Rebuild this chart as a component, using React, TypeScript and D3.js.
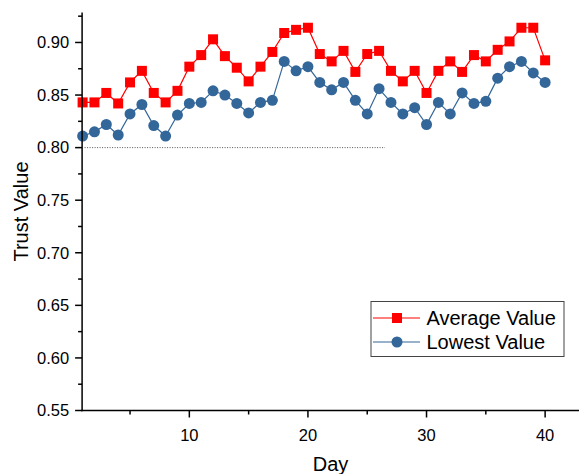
import React from "react";
import * as d3 from "d3";

const days: number[] = Array.from({ length: 40 }, (_, i) => i + 1);
const averageValues: number[] = [
  0.843, 0.843, 0.852, 0.842, 0.862, 0.873, 0.852, 0.843, 0.854, 0.877,
  0.888, 0.903, 0.887, 0.876, 0.863, 0.877, 0.891, 0.909, 0.912, 0.914,
  0.889, 0.882, 0.892, 0.872, 0.889, 0.892, 0.873, 0.863, 0.873, 0.852,
  0.873, 0.882, 0.872, 0.888, 0.882, 0.893, 0.901, 0.914, 0.914, 0.883,
];
const lowestValues: number[] = [
  0.811, 0.815, 0.822, 0.812, 0.832, 0.841, 0.821, 0.811, 0.831, 0.842,
  0.843, 0.854, 0.850, 0.842, 0.833, 0.843, 0.845, 0.882, 0.873, 0.877,
  0.862, 0.855, 0.862, 0.845, 0.832, 0.856, 0.843, 0.832, 0.838, 0.822,
  0.843, 0.832, 0.852, 0.842, 0.844, 0.866, 0.877, 0.882, 0.871, 0.862,
];
const yTicks: number[] = [0.55, 0.6, 0.65, 0.7, 0.75, 0.8, 0.85, 0.9];
const yMinorTicks: number[] = [0.575, 0.625, 0.675, 0.725, 0.775, 0.825, 0.875, 0.925];
const xTicks: number[] = [10, 20, 30, 40];
const xMinorTicks: number[] = [5, 15, 25, 35];
const refLine = { value: 0.8, from: 1, to: 26.5 };
const seriesNames = ["Average Value", "Lowest Value"];

const FONT = "'Liberation Sans', Arial, sans-serif";

export default function App() {
  const x = d3.scaleLinear().domain([1, 43]).range([82.6, 580.7]);
  const y = d3.scaleLinear().domain([0.55, 0.9285]).range([410.5, 12.5]);
  const line = d3
    .line<number>()
    .x((_, i) => x(days[i]))
    .y((d) => y(d));
  const red = "#FF0000";
  const blue = "#336699";
  const axisX0 = x(1) - 0.5;
  const axisY0 = y(0.55);

  return (
    <svg
      width={579}
      height={474}
      style={{ position: "absolute", left: 0, top: 0, background: "#fff" }}
      fontFamily={FONT}
    >
      {/* reference dotted line */}
      <line
        x1={x(refLine.from) + 2}
        x2={x(refLine.to)}
        y1={y(refLine.value)}
        y2={y(refLine.value)}
        stroke="#555"
        strokeWidth={1}
        strokeDasharray="1,1.5"
      />
      {/* series lines */}
      <path d={line(lowestValues) || ""} fill="none" stroke={blue} strokeWidth={1.2} />
      <path d={line(averageValues) || ""} fill="none" stroke={red} strokeWidth={1.2} />
      {lowestValues.map((v, i) => (
        <circle key={"l" + i} cx={x(days[i])} cy={y(v)} r={5.5} fill={blue} />
      ))}
      {averageValues.map((v, i) => (
        <rect key={"a" + i} x={x(days[i]) - 5} y={y(v) - 5} width={10} height={10} fill={red} />
      ))}

      {/* y axis */}
      <line x1={axisX0} x2={axisX0} y1={y(0.9285)} y2={axisY0 + 0.75} stroke="#000" strokeWidth={1.5} />
      {yTicks.map((t) => (
        <g key={"yt" + t}>
          <line x1={axisX0 - 7} x2={axisX0} y1={y(t)} y2={y(t)} stroke="#000" strokeWidth={1.5} />
          <text x={axisX0 - 13} y={y(t)} dy="0.35em" textAnchor="end" fontSize={16.5} fill="#000">
            {t.toFixed(2)}
          </text>
        </g>
      ))}
      {yMinorTicks.map((t) => (
        <line key={"ym" + t} x1={axisX0 - 4} x2={axisX0} y1={y(t)} y2={y(t)} stroke="#000" strokeWidth={1.5} />
      ))}
      <text
        transform={`translate(28,${(y(0.9285) + axisY0) / 2}) rotate(-90)`}
        textAnchor="middle"
        fontSize={20}
        fill="#000"
      >
        Trust Value
      </text>

      {/* x axis */}
      <line x1={axisX0 - 0.75} x2={579} y1={axisY0} y2={axisY0} stroke="#000" strokeWidth={1.5} />
      {xTicks.map((t) => (
        <g key={"xt" + t}>
          <line x1={x(t)} x2={x(t)} y1={axisY0} y2={axisY0 + 7} stroke="#000" strokeWidth={1.5} />
          <text x={x(t)} y={axisY0 + 30} textAnchor="middle" fontSize={16.5} fill="#000">
            {t}
          </text>
        </g>
      ))}
      {xMinorTicks.map((t) => (
        <line key={"xm" + t} x1={x(t)} x2={x(t)} y1={axisY0} y2={axisY0 + 4} stroke="#000" strokeWidth={1.5} />
      ))}
      <text x={(axisX0 + 579) / 2} y={471} textAnchor="middle" fontSize={20} fill="#000">
        Day
      </text>

      {/* legend */}
      <g>
        <rect x={371} y={301.5} width={193} height={55} fill="#fff" stroke="#444" strokeWidth={1} />
        <line x1={373} x2={420} y1={318} y2={318} stroke={red} strokeWidth={1.2} />
        <rect x={392} y={313} width={10} height={10} fill={red} />
        <text x={426.5} y={318} dy="0.35em" fontSize={20} fill="#000">
          {seriesNames[0]}
        </text>
        <line x1={373} x2={420} y1={342} y2={342} stroke={blue} strokeWidth={1.2} />
        <circle cx={397} cy={342} r={5.5} fill={blue} />
        <text x={426.5} y={342} dy="0.35em" fontSize={20} fill="#000">
          {seriesNames[1]}
        </text>
      </g>
    </svg>
  );
}
